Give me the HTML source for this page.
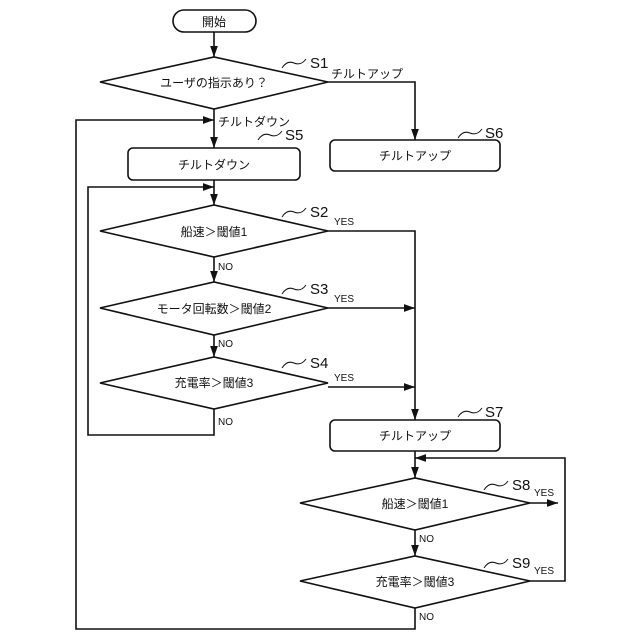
<!DOCTYPE html>
<html><head><meta charset="utf-8"><style>body{margin:0;background:#fff}svg{display:block}text{font-family:"Liberation Sans","Noto Sans CJK JP",sans-serif;fill:#111}</style></head><body>
<svg width="640" height="640" viewBox="0 0 640 640" xmlns="http://www.w3.org/2000/svg">
<defs><marker id="a" viewBox="0 0 10 10" refX="10" refY="5" markerWidth="7" markerHeight="7" orient="auto"><path d="M0,1.5L10,5L0,8.5z" fill="#111"/></marker></defs>
<g stroke="#111" stroke-width="1.6" fill="none">
<rect x="173" y="10" width="83" height="22" rx="11"/>
<polygon points="100,82 214,57 328,82 214,109"/>
<rect x="330" y="140" width="170" height="31" rx="5"/>
<rect x="128" y="148" width="172" height="32" rx="5"/>
<polygon points="100,231 214,205 328,231 214,257"/>
<polygon points="100,308 214,282 328,308 214,335"/>
<polygon points="100,383 214,357 328,383 214,409"/>
<rect x="330" y="420" width="170" height="31" rx="5"/>
<polygon points="300,503 415,478 530,503 415,530"/>
<polygon points="300,581 415,556 530,581 415,608"/>
<line x1="214" y1="32" x2="214" y2="57" marker-end="url(#a)"/>
<polyline points="328,82 415,82 415,140" marker-end="url(#a)"/>
<line x1="214" y1="109" x2="214" y2="148" marker-end="url(#a)"/>
<line x1="214" y1="180" x2="214" y2="205" marker-end="url(#a)"/>
<line x1="214" y1="257" x2="214" y2="282" marker-end="url(#a)"/>
<line x1="214" y1="335" x2="214" y2="357" marker-end="url(#a)"/>
<polyline points="214,409 214,435 88,435 88,187 214,187" marker-end="url(#a)"/>
<polyline points="328,231 415,231 415,420" marker-end="url(#a)"/>
<line x1="328" y1="308" x2="415" y2="308" marker-end="url(#a)"/>
<line x1="328" y1="387" x2="415" y2="387" marker-end="url(#a)"/>
<line x1="415" y1="451" x2="415" y2="478" marker-end="url(#a)"/>
<line x1="415" y1="530" x2="415" y2="556" marker-end="url(#a)"/>
<line x1="530" y1="503" x2="558" y2="503" marker-end="url(#a)"/>
<polyline points="530,581 565,581 565,458 415,458" marker-end="url(#a)"/>
<polyline points="415,608 415,629 76,629 76,120 214,120" marker-end="url(#a)"/>
<g stroke-width="1">
<path d="M282,68 q5,-8 12,-5 q7,3 12,-4"/>
<path d="M258,140 q5,-8 12,-5 q7,3 12,-4"/>
<path d="M458,138 q5,-8 12,-5 q7,3 12,-4"/>
<path d="M282,217 q5,-8 12,-5 q7,3 12,-4"/>
<path d="M282,294 q5,-8 12,-5 q7,3 12,-4"/>
<path d="M282,368 q5,-8 12,-5 q7,3 12,-4"/>
<path d="M458,417 q5,-8 12,-5 q7,3 12,-4"/>
<path d="M484,490 q5,-8 12,-5 q7,3 12,-4"/>
<path d="M484,568 q5,-8 12,-5 q7,3 12,-4"/>
</g></g>
<g font-size="12" text-anchor="middle">
<text x="214" y="26">開始</text>
<text x="214" y="87">ユーザの指示あり？</text>
<text x="415" y="160">チルトアップ</text>
<text x="214" y="169">チルトダウン</text>
<text x="214" y="236">船速＞閾値1</text>
<text x="214" y="313">モータ回転数＞閾値2</text>
<text x="214" y="387">充電率＞閾値3</text>
<text x="415" y="440">チルトアップ</text>
<text x="415" y="508">船速＞閾値1</text>
<text x="415" y="586">充電率＞閾値3</text>
</g>
<g font-size="12">
<text x="331" y="78">チルトアップ</text>
<text x="218" y="126">チルトダウン</text>
</g>
<g font-size="15">
<text x="310" y="68">S1</text><text x="285" y="140">S5</text><text x="485" y="138">S6</text>
<text x="310" y="217">S2</text><text x="310" y="294">S3</text><text x="310" y="368">S4</text>
<text x="485" y="417">S7</text><text x="512" y="490">S8</text><text x="512" y="568">S9</text>
</g>
<g font-size="10">
<text x="334" y="225">YES</text><text x="334" y="302">YES</text><text x="334" y="381">YES</text>
<text x="534" y="496">YES</text><text x="534" y="574">YES</text>
<text x="218" y="270">NO</text><text x="218" y="347">NO</text><text x="218" y="425">NO</text>
<text x="419" y="542">NO</text><text x="419" y="620">NO</text>
</g>
</svg>
</body></html>
